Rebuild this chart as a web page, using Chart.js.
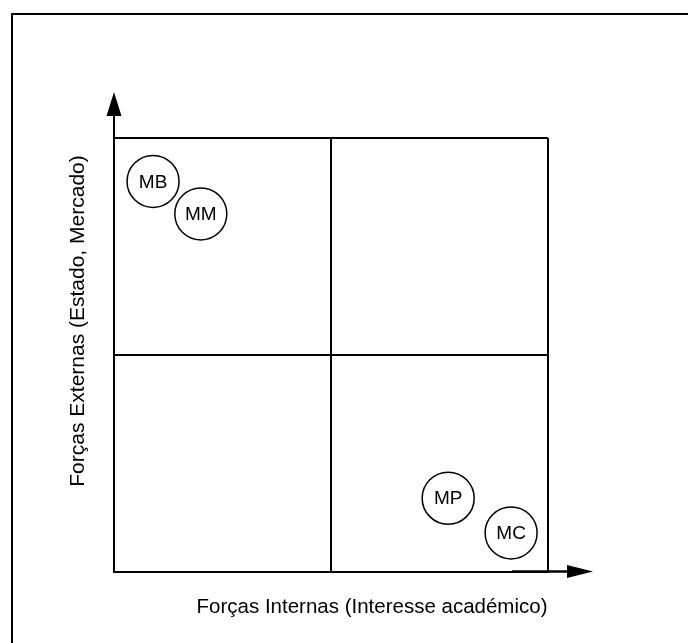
<!DOCTYPE html>
<html>
<head>
<meta charset="utf-8">
<script src="https://cdn.jsdelivr.net/npm/chart.js@4.4.1/dist/chart.umd.min.js"></script>
<style>
  html, body { margin: 0; padding: 0; background: #fff; }
  #wrap { width: 688px; height: 643px; position: relative; }
</style>
</head>
<body>
<div id="wrap"><canvas id="c" width="688" height="643"></canvas></div>
<script>
// Data (0-100 on each axis)
const labels = ["MB", "MM", "MP", "MC"];
const internas = [9, 20, 77, 91.5];       // x: Forças Internas
const externas = [90, 82.5, 17, 9];       // y: Forças Externas
const gridTicks = [0, 50, 100];
const xTitle = "Forças Internas (Interesse académico)";
const yTitle = "Forças Externas (Estado, Mercado)";

const FONT = '"Liberation Sans", Arial, sans-serif';

const decor = {
  id: 'decor',
  beforeDraw(chart) {
    const ctx = chart.ctx;
    ctx.save();
    ctx.fillStyle = '#fff';
    ctx.fillRect(0, 0, chart.width, chart.height);
    // outer frame (left + top)
    ctx.strokeStyle = '#000';
    ctx.lineWidth = 2;
    ctx.beginPath();
    ctx.moveTo(12, chart.height + 2);
    ctx.lineTo(12, 14);
    ctx.lineTo(chart.width + 2, 14);
    ctx.stroke();
    ctx.restore();
  },
  afterDraw(chart) {
    const ctx = chart.ctx;
    const a = chart.chartArea;
    ctx.save();
    ctx.strokeStyle = '#000';
    ctx.fillStyle = '#000';
    ctx.lineWidth = 2;
    // y arrow
    ctx.beginPath();
    ctx.moveTo(a.left, a.top);
    ctx.lineTo(a.left, a.top - 24);
    ctx.stroke();
    ctx.beginPath();
    ctx.moveTo(a.left, a.top - 46);
    ctx.lineTo(a.left - 7.5, a.top - 22);
    ctx.lineTo(a.left + 7.5, a.top - 22);
    ctx.closePath();
    ctx.fill();
    // x arrow
    ctx.beginPath();
    ctx.moveTo(a.right - 36, a.bottom - 0.5);
    ctx.lineTo(a.right + 20, a.bottom - 0.5);
    ctx.lineWidth = 2.5;
    ctx.stroke();
    ctx.beginPath();
    ctx.moveTo(a.right + 45, a.bottom - 0.5);
    ctx.lineTo(a.right + 19, a.bottom - 7);
    ctx.lineTo(a.right + 19, a.bottom + 6);
    ctx.closePath();
    ctx.fill();
    // titles
    ctx.textAlign = 'center';
    ctx.textBaseline = 'middle';
    ctx.font = '20.5px ' + FONT;
    ctx.fillText(xTitle, a.left + 258, a.bottom + 35);
    ctx.font = '21px ' + FONT;
    ctx.translate(a.left - 36, a.top + 183);
    ctx.rotate(-Math.PI / 2);
    ctx.fillText(yTitle, 0, 0);
    ctx.restore();
  },
  afterDatasetsDraw(chart) {
    const ctx = chart.ctx;
    const meta = chart.getDatasetMeta(0);
    ctx.save();
    ctx.fillStyle = '#000';
    ctx.font = '19px ' + FONT;
    ctx.textAlign = 'center';
    ctx.textBaseline = 'middle';
    meta.data.forEach((pt, i) => {
      ctx.fillText(labels[i], pt.x, pt.y + 1);
    });
    ctx.restore();
  }
};

const gridOpts = {
  color: '#000',
  lineWidth: 2,
  drawTicks: false
};

new Chart(document.getElementById('c'), {
  type: 'scatter',
  data: {
    datasets: [{
      data: internas.map((x, i) => ({ x: x, y: externas[i] })),
      pointRadius: 26,
      pointHoverRadius: 26,
      pointBackgroundColor: '#fff',
      pointBorderColor: '#000',
      pointBorderWidth: 1.5
    }]
  },
  options: {
    responsive: false,
    animation: false,
    events: [],
    layout: { padding: { left: 114, top: 138, right: 140, bottom: 71 } },
    plugins: { legend: { display: false }, tooltip: { enabled: false } },
    scales: {
      x: {
        type: 'linear', min: 0, max: 100,
        afterBuildTicks: s => { s.ticks = gridTicks.map(v => ({ value: v })); },
        ticks: { display: false, padding: 0 },
        grid: gridOpts,
        border: { display: true, color: '#000', width: 2 }
      },
      y: {
        type: 'linear', min: 0, max: 100,
        afterBuildTicks: s => { s.ticks = gridTicks.map(v => ({ value: v })); },
        ticks: { display: false, padding: 0 },
        grid: gridOpts,
        border: { display: true, color: '#000', width: 2 }
      }
    }
  },
  plugins: [decor]
});
</script>
</body>
</html>
